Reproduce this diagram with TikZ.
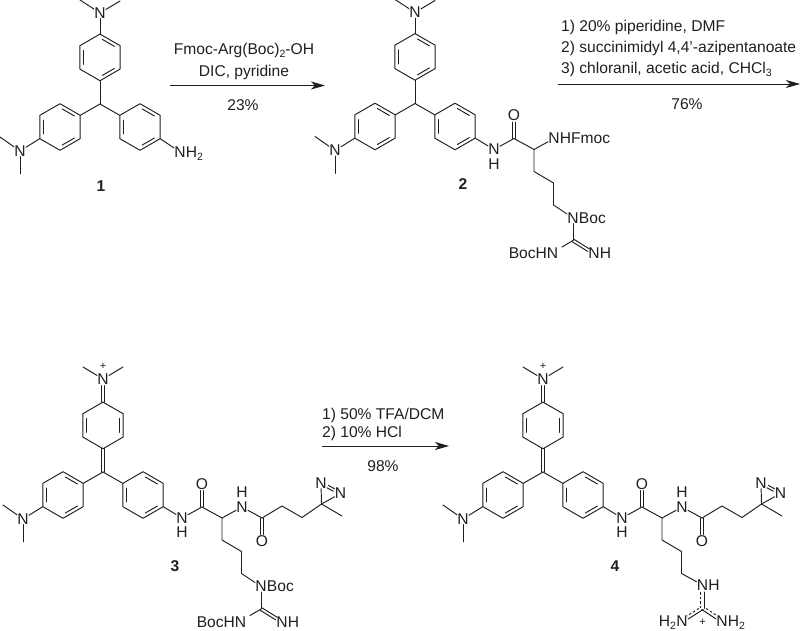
\documentclass[tikz,border=0pt]{standalone}
\usepackage{fontspec}
\setmainfont{Liberation Sans}
\usetikzlibrary{calc,arrows.meta}
\colorlet{ink}{black!88}
\newcommand\lsub[1]{\raisebox{-0.2em}{\fontsize{10.5}{11}\selectfont #1}}
\tikzset{
  bond/.style={draw=ink,line width=0.95pt,line cap=round,line join=round},
  atom/.style={inner sep=0.3pt,outer sep=0pt,text=ink,font=\fontsize{15.6}{18}\selectfont},
  chg/.style={inner sep=0pt,text=ink,font=\fontsize{11}{12}\selectfont},
  reagent/.style={inner sep=0pt,text=ink,font=\fontsize{15.6}{18}\selectfont},
  cpd/.style={inner sep=0pt,text=ink,font=\fontsize{15.6}{18}\selectfont\bfseries},
  rxn/.style={draw=ink,line width=0.95pt,-{Stealth[length=14pt,width=8pt,inset=4pt]}},
  partial/.style={bond,dash pattern=on 2.5pt off 2pt,line cap=butt},
}
% inner ring double bond: #1 #2 ring atoms, #3 ring centre
\newcommand\inbond[3]{\draw[bond] ($($(#1)!.14!(#2)$)!.17!(#3)$) -- ($($(#2)!.14!(#1)$)!.17!(#3)$);}
% symmetric double bond
\newcommand\dbond[4][]{\draw[bond,#1] ($(#2)!#4!90:(#3)$) -- ($(#3)!#4!-90:(#2)$);
  \draw[bond,#1] ($(#2)!#4!-90:(#3)$) -- ($(#3)!#4!90:(#2)$);}
% ring: name, centre; then vertices a..f from the top going clockwise
\newcommand\ringatoms[2]{\begin{scope}[shift={(#2)}]
  \coordinate (#1c) at (0,0);
  \coordinate (#1a) at (0,-23.3); \coordinate (#1b) at (20.2,-11.65);
  \coordinate (#1d) at (0,23.3);  \coordinate (#1e) at (-20.2,11.65);
  \coordinate (#1g) at (20.2,11.65); \coordinate (#1f) at (-20.2,-11.65);
  \end{scope}
  \draw[bond] (#1a)--(#1b)--(#1g)--(#1d)--(#1e)--(#1f)--cycle;
  \inbond{#1e}{#1f}{#1c}}
\newcommand\arom[2]{\ringatoms{#1}{#2}\inbond{#1a}{#1b}{#1c}\inbond{#1g}{#1d}{#1c}}
\newcommand\quin[2]{\ringatoms{#1}{#2}\inbond{#1b}{#1g}{#1c}}
% the parts shared by all four compounds
\newcommand\lowerarms{
  \coordinate (C0) at (0,0);
  \arom{L}{-40,23}\arom{R}{40,23}
  \draw[bond] (C0)--(Lb); \draw[bond] (C0)--(Rf);
  \node[atom] (NL) at (-80,47) {N};
  \coordinate (ML1) at (-100,33); \coordinate (ML2) at (-80,70);
  \draw[bond] (Le)--(NL); \draw[bond] (NL)--(ML1); \draw[bond] (NL)--(ML2);}
\newcommand\neutraltop{
  \arom{T}{0,-46.6}
  \draw[bond] (C0)--(Td);
  \node[atom] (NT) at (0,-91) {N};
  \coordinate (MT1) at (-20,-104); \coordinate (MT2) at (20,-103);
  \draw[bond] (Ta)--(NT); \draw[bond] (NT)--(MT1); \draw[bond] (NT)--(MT2);}
\newcommand\cationtop{
  \quin{T}{0,-46.6}
  \dbond{C0}{Td}{1.7pt}
  \node[atom] (NT) at (0,-93) {N};
  \node[chg] (PT) at (0,-106) {+};
  \coordinate (MT1) at (-20,-105); \coordinate (MT2) at (20,-105);
  \dbond[shorten >=6.5pt]{Ta}{NT}{1.7pt}
  \draw[bond] (NT)--(MT1); \draw[bond] (NT)--(MT2);}
\newcommand\amide{
  \node[atom] (NA) at (79,46) {N};
  \node[atom] (HA) at (79,60.5) {H};
  \coordinate (CO) at (99,35);
  \node[atom] (OA) at (99,12) {O};
  \coordinate (CA) at (119,46);
  \coordinate (S1) at (119,68); \coordinate (S2) at (138.5,79.5); \coordinate (S3) at (138.5,101.5);
  \draw[bond] (Rg)--(NA); \draw[bond] (NA)--(CO); \draw[bond] (CO)--(CA);
  \dbond[shorten >=6.5pt]{CO}{OA}{1.7pt}
  \draw[bond] (CA)--(S1)--(S2)--(S3);}
\newcommand\diazirine{
  \node[atom] (NB) at (139,35) {N};
  \node[atom] (HB) at (139,20.5) {H};
  \coordinate (CB) at (159,46);
  \node[atom] (OB) at (159,69) {O};
  \coordinate (E1) at (179,34); \coordinate (E2) at (199,45.5); \coordinate (Q) at (218.5,32);
  \coordinate (Me) at (239,44);
  \node[atom] (N1) at (218,11) {N};
  \node[atom] (N2) at (237.5,21.5) {N};
  \draw[bond] (CA)--(NB); \draw[bond] (NB)--(CB); \draw[bond] (CB)--(E1)--(E2)--(Q)--(Me);
  \dbond[shorten >=6.5pt]{CB}{OB}{1.7pt}
  \draw[bond] (Q)--(N1); \draw[bond] (Q)--(N2);
  \dbond[shorten >=7.5pt,shorten <=7.5pt]{N1}{N2}{1.4pt}}
\newcommand\bocguan{
  \node[atom] (NG) at (158,114.5) {N};
  \node[atom,anchor=base west,inner sep=0pt] (BG) at (NG.base east) {Boc};
  \coordinate (CG) at (158,137);
  \node[atom,anchor=east] (BH) at (143.5,150) {BocHN};
  \node[atom] (NI) at (179,150) {N};
  \node[atom,anchor=base west,inner sep=0pt] (HI) at (NI.base east) {H};
  \coordinate (BHa) at (147,143.5);
  \draw[bond] (S3)--(NG); \draw[bond] (NG)--(CG); \draw[bond] (CG)--(BHa);
  \dbond[shorten >=6.5pt]{CG}{NI}{1.5pt}}
\begin{document}
\begin{tikzpicture}[x=1pt,y=-1pt]
\useasboundingbox (0,0) rectangle (800,631);
% ---- compound 1
\begin{scope}[shift={(100,104)},name prefix=a-]
  \lowerarms\neutraltop
  \node[atom] (NH) at (80,48) {N};
  \node[atom,anchor=base west,inner sep=0pt] (H2) at (NH.base east) {H\lsub{2}};
  \draw[bond] (Rg)--(NH);
\end{scope}
\node[cpd] (c1) at (101,186) {1};
% ---- compound 2
\begin{scope}[shift={(415,103.5)},name prefix=b-]
  \lowerarms\neutraltop\amide
  \node[atom] (NF) at (139,35) {N};
  \node[atom,anchor=base west,inner sep=0pt] (HF) at (NF.base east) {HFmoc};
  \draw[bond] (CA)--(NF);
  \bocguan
\end{scope}
\node[cpd] (c2) at (463,184) {2};
% ---- compound 3
\begin{scope}[shift={(103,472)},name prefix=c-]
  \lowerarms\cationtop\amide\diazirine\bocguan
\end{scope}
\node[cpd] (c3) at (175,566) {3};
% ---- compound 4
\begin{scope}[shift={(543,472)},name prefix=d-]
  \lowerarms\cationtop\amide\diazirine
  \node[atom] (NG) at (159.5,113) {N};
  \node[atom,anchor=base west,inner sep=0pt] (HG) at (NG.base east) {H};
  \coordinate (CG) at (159.5,136.5);
  \node[atom] (NX) at (139,149.5) {N};
  \node[atom,anchor=base east,inner sep=0pt] (HX) at (NX.base west) {H\lsub{2}};
  \node[atom] (NY) at (179,149.5) {N};
  \node[atom,anchor=base west,inner sep=0pt] (HY) at (NY.base east) {H\lsub{2}};
  \node[chg] (PG) at (159.5,150) {+};
  \draw[bond] (S3)--(NG);
  \draw[bond,shorten <=7pt] ($(NG)!1.6pt!90:(CG)$)--($(CG)!1.6pt!-90:(NG)$);
  \draw[partial,shorten <=7pt,shorten >=1pt] ($(NG)!1.6pt!-90:(CG)$)--($(CG)!1.6pt!90:(NG)$);
  \draw[bond,shorten >=6.5pt] ($(CG)!1.2pt!90:(NX)$)--($(NX)!1.2pt!-90:(CG)$);
  \draw[partial,shorten <=3pt,shorten >=7pt] ($(CG)!2pt!-90:(NX)$)--($(NX)!2pt!90:(CG)$);
  \draw[bond,shorten >=6.5pt] ($(CG)!1.2pt!-90:(NY)$)--($(NY)!1.2pt!90:(CG)$);
  \draw[partial,shorten <=3pt,shorten >=7pt] ($(CG)!2pt!90:(NY)$)--($(NY)!2pt!-90:(CG)$);
\end{scope}
\node[cpd] (c4) at (615,566) {4};
% ---- reaction 1
\coordinate (r1a) at (170,85.5); \coordinate (r1b) at (325,85.5);
\draw[rxn] (r1a)--(r1b);
\node[reagent] (t11) at (244,50) {Fmoc-Arg(Boc)\lsub{2}-OH};
\node[reagent] (t12) at (244,72) {DIC, pyridine};
\node[reagent] (t13) at (243,105) {23\%};
% ---- reaction 2
\coordinate (r2a) at (558,84); \coordinate (r2b) at (800,84);
\draw[rxn] (r2a)--(r2b);
\node[reagent,anchor=west] (t21) at (561,27) {1) 20\% piperidine, DMF};
\node[reagent,anchor=west] (t22) at (561,48) {2) succinimidyl 4,4'-azipentanoate};
\node[reagent,anchor=west] (t23) at (561,69) {3) chloranil, acetic acid, CHCl\lsub{3}};
\node[reagent] (t24) at (687,104) {76\%};
% ---- reaction 3
\coordinate (r3a) at (322,446); \coordinate (r3b) at (449,446);
\draw[rxn] (r3a)--(r3b);
\node[reagent,anchor=west] (t31) at (322,415) {1) 50\% TFA/DCM};
\node[reagent,anchor=west] (t32) at (322,433) {2) 10\% HCl};
\node[reagent] (t33) at (383,466) {98\%};
\end{tikzpicture}
\end{document}
